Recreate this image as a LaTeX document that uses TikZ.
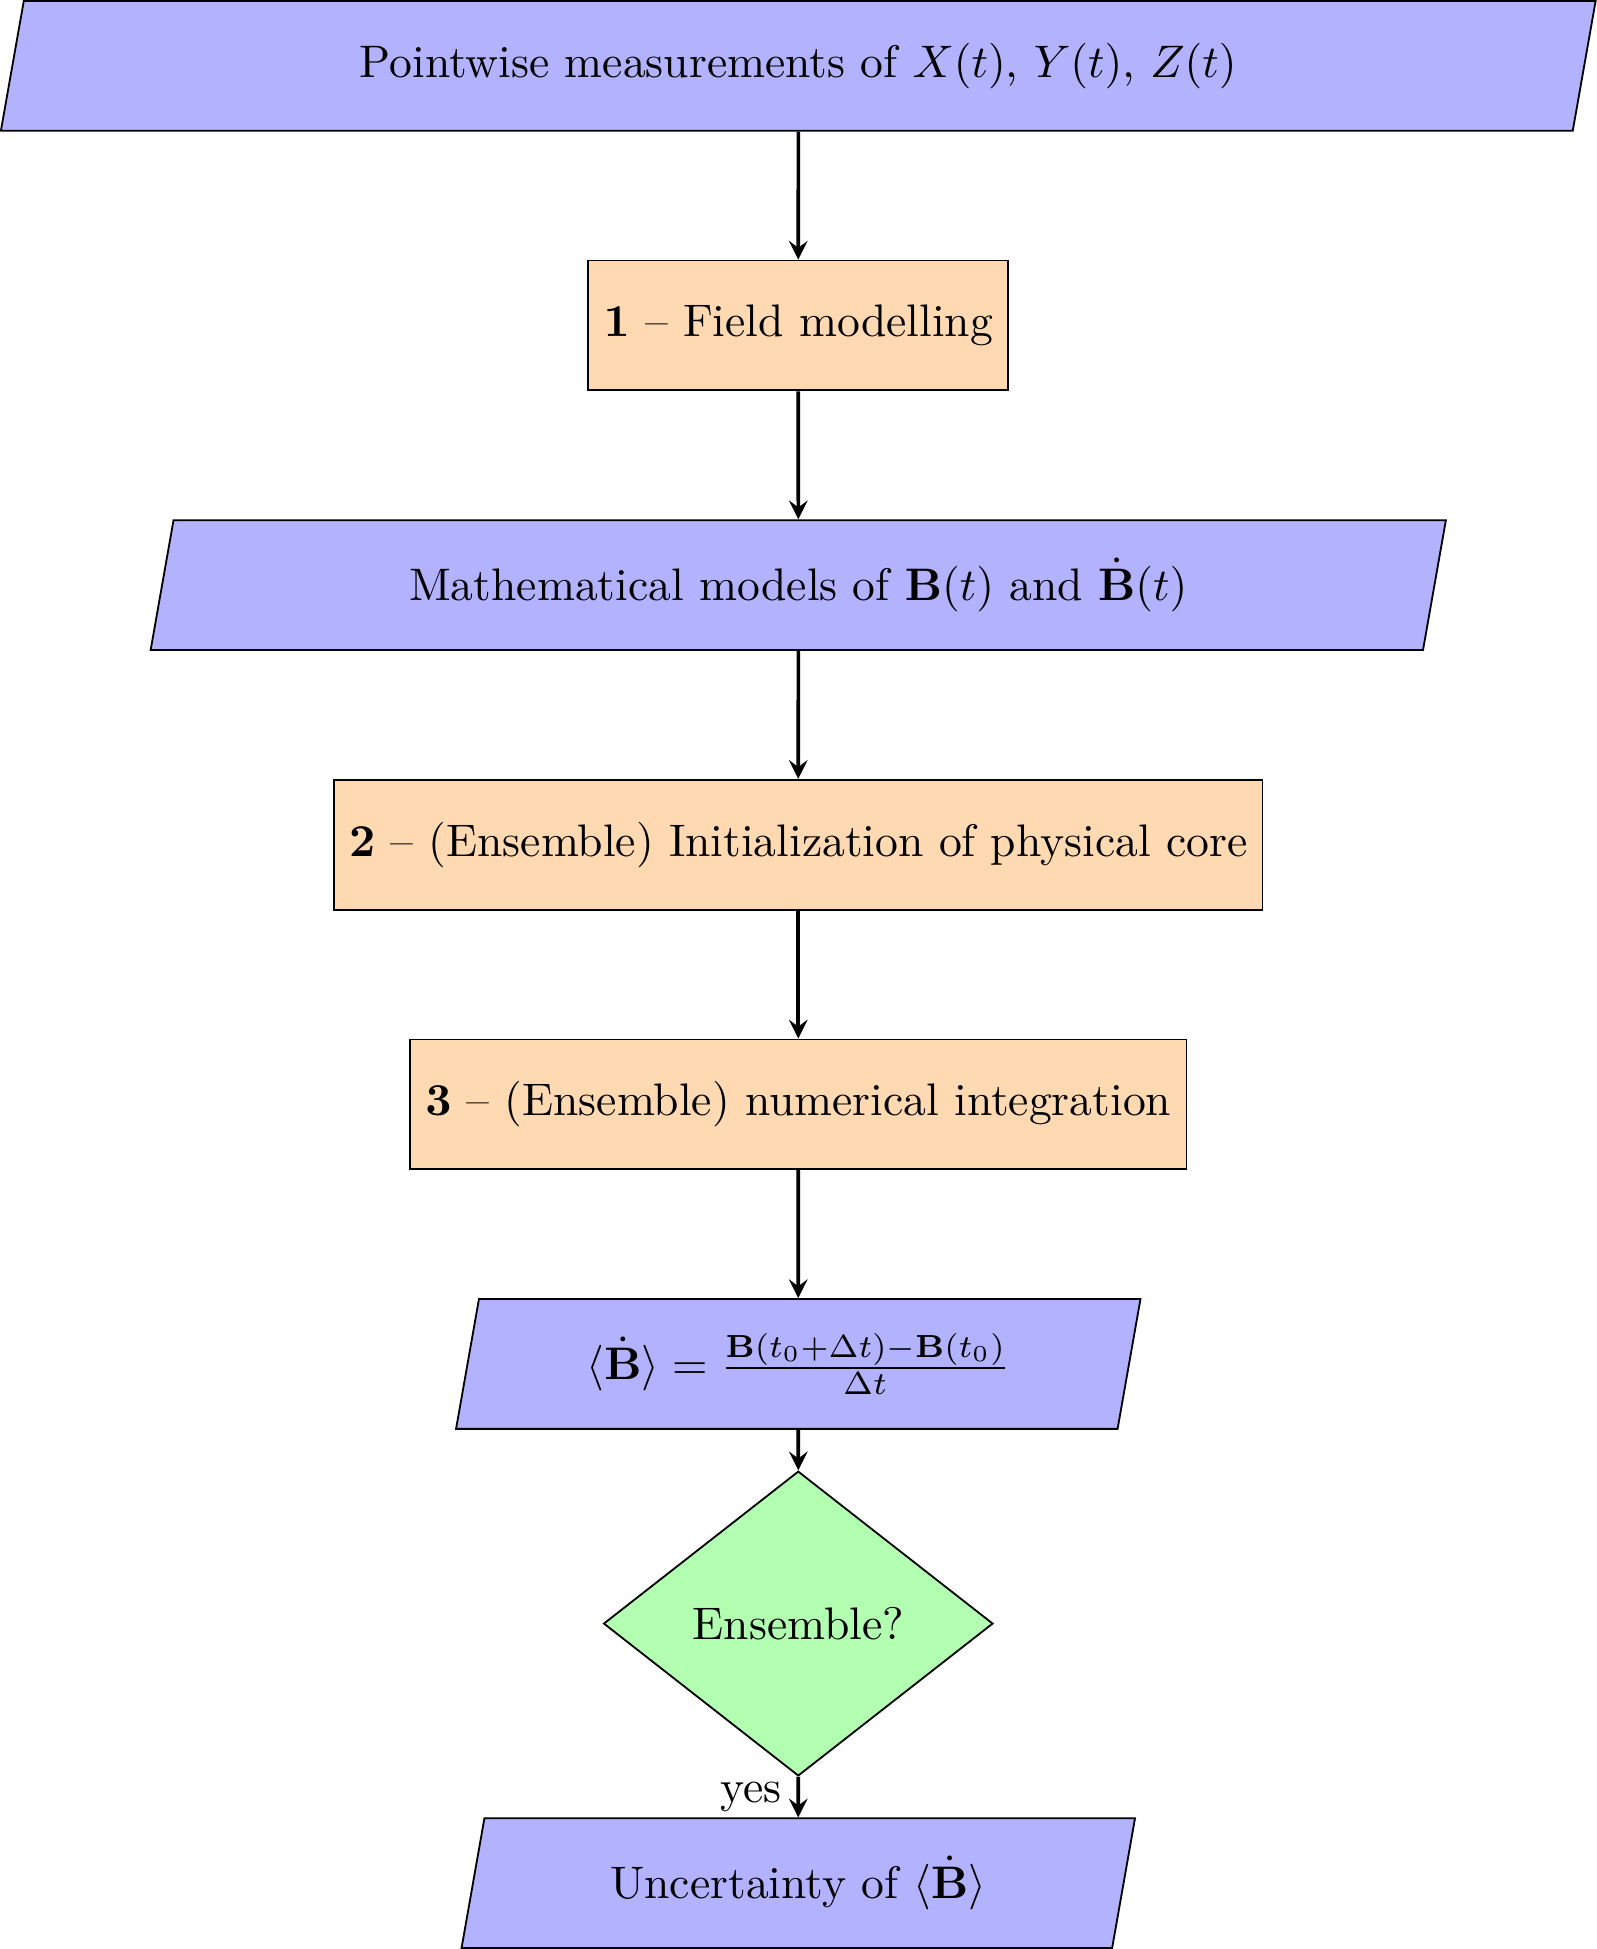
\documentclass[tikz,border=0pt]{standalone}
\usepackage{amsmath,amssymb}
\usetikzlibrary{arrows,arrows.meta,shapes.geometric}
\tikzset{
>=stealth,
dati/.style={trapezium,trapezium left angle=80,trapezium right angle=100,minimum width=3cm,minimum height=1cm,text centered,draw=black,fill=blue!30},
processo/.style={rectangle,minimum width=3cm,minimum height=1cm,text centered,draw=black,fill=orange!30},
decisione/.style={diamond,minimum width=3cm,minimum height=1cm,text centered,draw=black,fill=green!30},
freccia/.style={->,thick}}

\begin{document}
\begin{tikzpicture}
\node[dati] (1) at (0,0) {Pointwise measurements of $X(t)$, $Y(t)$, $Z(t)$};
\node[processo] (2) at (0,-2) {$\mathbf{1}$ -- Field modelling};
\node[dati] (3) at (0,-4) {Mathematical models of $\mathbf{B}(t)$ and $\dot{\mathbf{B}}(t)$};
\node[processo] (4) at (0,-6) {$\mathbf{2}$ -- (Ensemble) Initialization of physical core};
\node[processo] (5) at (0,-8) {$\mathbf{3}$ -- (Ensemble) numerical integration};
\node[dati] (6) at (0,-10) {$\langle\dot{\mathbf{B}}\rangle=\frac{\mathbf{B}(t_0+\Delta t)-\mathbf{B}(t_0)}{\Delta t}$};
\node[decisione] (7) at (0,-12) {Ensemble?};
\node[dati] (8) at (0,-14) {Uncertainty of $\langle\dot{\mathbf{B}}\rangle$};

\path[freccia]
	(1) edge (2)
	(2) edge (3)
	(3) edge (4)
	(4) edge (5)
	(5) edge (6)
	(6) edge (7)
	(7) edge node[anchor=east] {yes} (8);
\end{tikzpicture}
\end{document}
